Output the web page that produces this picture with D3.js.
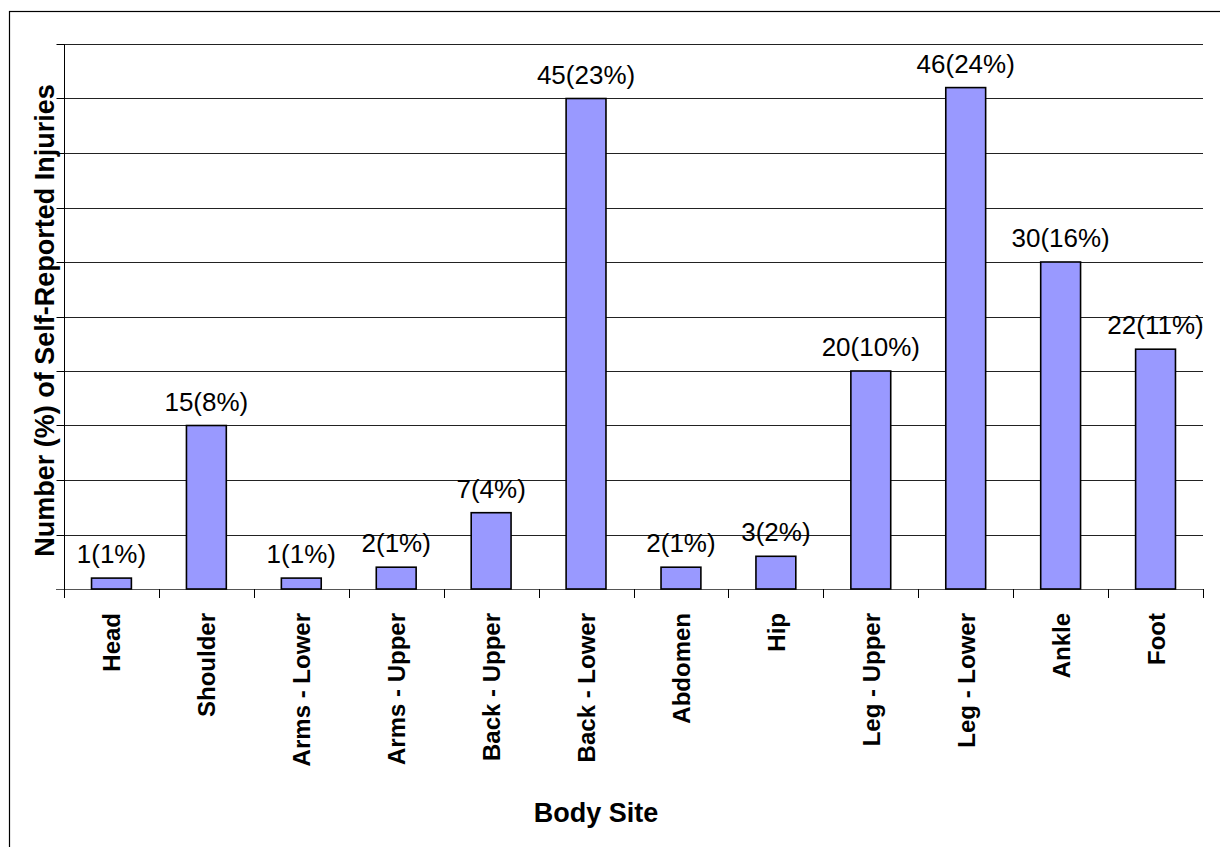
<!DOCTYPE html>
<html>
<head>
<meta charset="utf-8">
<script src="https://cdn.jsdelivr.net/npm/d3@7"></script>
<style>
  html, body { margin: 0; padding: 0; background: #fff; }
  svg { display: block; font-family: Arial, "Liberation Sans", sans-serif; }
</style>
</head>
<body>
<svg id="chart" width="1220" height="847"></svg>
<script>
// Injury counts by body site, with share of all self-reported injuries
const sites = ["Head", "Shoulder", "Arms - Lower", "Arms - Upper", "Back - Upper", "Back - Lower",
               "Abdomen", "Hip", "Leg - Upper", "Leg - Lower", "Ankle", "Foot"];
const counts = [1, 15, 1, 2, 7, 45, 2, 3, 20, 46, 30, 22];
const percents = [1, 8, 1, 1, 4, 23, 1, 2, 10, 24, 16, 11];
const yTicks = [0, 5, 10, 15, 20, 25, 30, 35, 40, 45, 50];

const svg = d3.select("#chart");
const margin = { left: 64, right: 1203, top: 44, bottom: 589 };

// outer frame
svg.append("rect")
  .attr("x", 9.5).attr("y", 11.5)
  .attr("width", 1230).attr("height", 860)
  .attr("fill", "none").attr("stroke", "#000").attr("stroke-width", 1.2);

const x = d3.scaleBand().domain(sites).range([margin.left, margin.right]).paddingInner(0.58).paddingOuter(0.29);
const xEdges = d3.scaleLinear().domain([0, sites.length]).range([margin.left, margin.right]);
const y = d3.scaleLinear().domain([0, 50]).range([margin.bottom, margin.top]);

// horizontal gridlines
svg.append("g").selectAll("line").data(yTicks.slice(1)).join("line")
  .attr("x1", margin.left).attr("x2", margin.right)
  .attr("y1", d => Math.round(y(d)) + 0.5).attr("y2", d => Math.round(y(d)) + 0.5)
  .attr("stroke", "#222").attr("stroke-width", 1.1);

// y axis with outward ticks, no labels
const yAxis = svg.append("g")
  .attr("transform", `translate(${margin.left + 0.5},0.5)`)
  .call(d3.axisLeft(y).tickValues(yTicks).tickSize(8).tickFormat(""));
yAxis.select(".domain").attr("d", `M0,${Math.round(y(50))}V${Math.round(y(0))}`).attr("stroke", "#000");
yAxis.selectAll(".tick line").attr("stroke", "#000");
yAxis.selectAll(".tick").attr("transform", d => `translate(0,${Math.round(y(d))})`);

// x baseline and category separators
svg.append("line")
  .attr("x1", margin.left - 8).attr("x2", margin.right)
  .attr("y1", Math.round(y(0)) + 0.5).attr("y2", Math.round(y(0)) + 0.5)
  .attr("stroke", "#555").attr("stroke-width", 1.2);
svg.append("g").selectAll("line").data(d3.range(sites.length + 1)).join("line")
  .attr("x1", i => Math.round(xEdges(i)) + 0.5).attr("x2", i => Math.round(xEdges(i)) + 0.5)
  .attr("y1", Math.round(y(0))).attr("y2", Math.round(y(0)) + 9)
  .attr("stroke", "#000").attr("stroke-width", 1);

// bars
svg.append("g").selectAll("rect").data(counts).join("rect")
  .attr("x", (d, i) => x(sites[i]))
  .attr("y", d => y(d))
  .attr("width", x.bandwidth())
  .attr("height", d => y(0) - y(d))
  .attr("fill", "#9999FF")
  .attr("stroke", "#000").attr("stroke-width", 1.6);

// value labels
svg.append("g").selectAll("text").data(counts).join("text")
  .attr("x", (d, i) => x(sites[i]) + x.bandwidth() / 2)
  .attr("y", d => y(d) - 15)
  .attr("text-anchor", "middle")
  .attr("font-size", 26)
  .text((d, i) => `${d}(${percents[i]}%)`);

// category labels, rotated
svg.append("g").selectAll("text").data(sites).join("text")
  .attr("transform", d => `translate(${x(d) + x.bandwidth() / 2 + 9},${Math.round(y(0)) + 24}) rotate(-90)`)
  .attr("text-anchor", "end")
  .attr("font-size", 24)
  .attr("font-weight", "bold")
  .text(d => d);

// axis titles
svg.append("text")
  .attr("transform", `translate(54,${(margin.top + margin.bottom) / 2 + 4}) rotate(-90)`)
  .attr("text-anchor", "middle")
  .attr("font-size", 27).attr("font-weight", "bold")
  .text("Number (%) of Self-Reported Injuries");

svg.append("text")
  .attr("x", 596).attr("y", 822)
  .attr("text-anchor", "middle")
  .attr("font-size", 27).attr("font-weight", "bold")
  .text("Body Site");
</script>
</body>
</html>
